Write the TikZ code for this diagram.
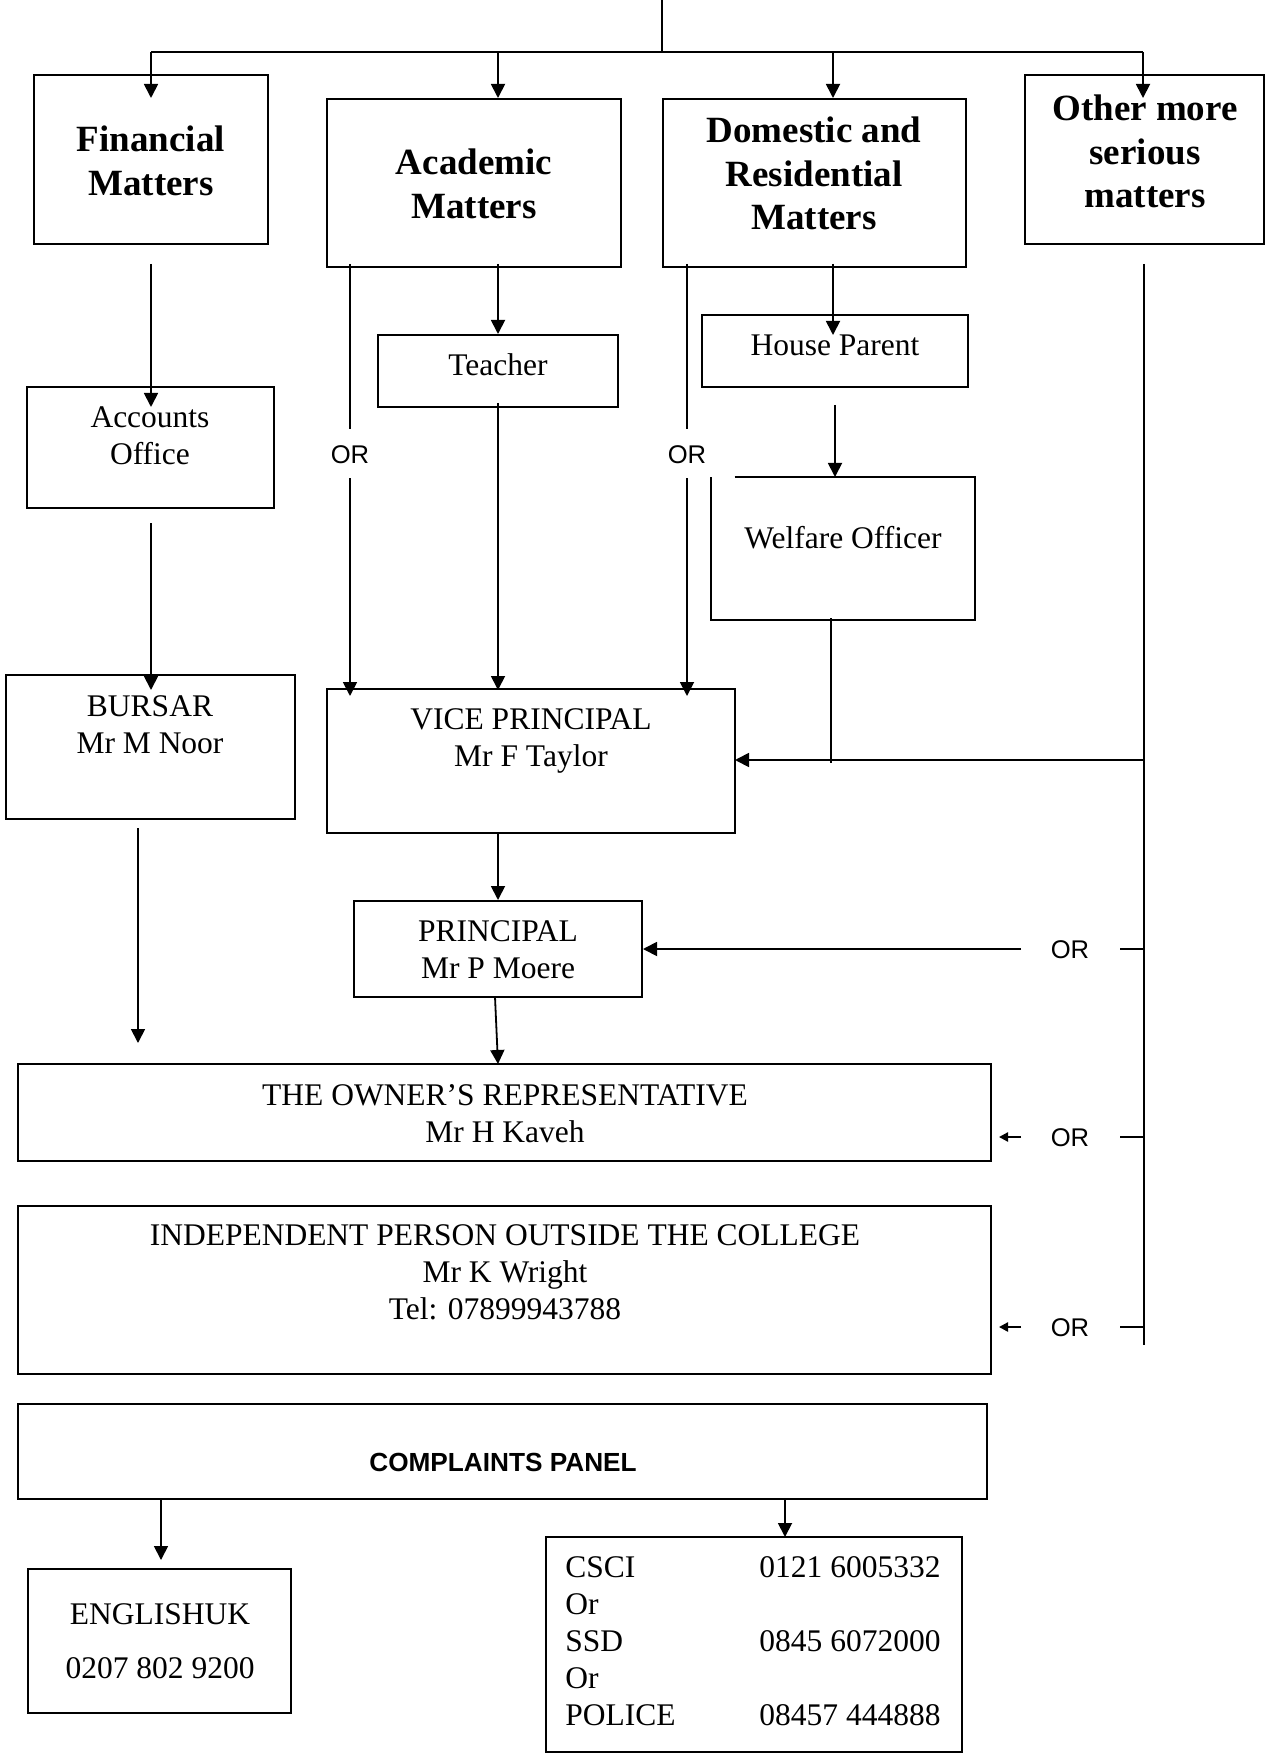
\documentclass[tikz,border=0pt]{standalone}
\usepackage{fontspec}
\setmainfont{Liberation Serif}
\setsansfont{Liberation Sans}
\usetikzlibrary{arrows.meta,fit,calc}
\newcommand\rmtext{\fontsize{15.75pt}{18.5pt}\selectfont}
\newcommand\bftext{\fontsize{18.5pt}{21.75pt}\selectfont\bfseries}
\newcommand\sftext{\fontsize{12.8pt}{15pt}\selectfont\sffamily}
\newcommand\cptext{\fontsize{13.1pt}{15pt}\selectfont\sffamily\bfseries}
\newcommand\tl[1]{\begin{tabular}[t]{@{}c@{}}#1\end{tabular}}
\newcommand\tll[1]{\begin{tabular}[t]{@{}l@{}}#1\end{tabular}}
\newcommand\tlr[1]{\begin{tabular}[t]{@{}r@{}}#1\end{tabular}}
\tikzset{
  box/.style={draw, line width=1pt, inner sep=0pt},
  boxline/.style={line width=1pt},
  con/.style={line width=0.9pt},
  arr/.style={con, -{Triangle[width=7pt,length=7pt]}},
  smallarr/.style={con, -{Triangle[width=4.6pt,length=4.5pt]}},
  txt/.style={inner sep=0pt, anchor=base, font=\rmtext},
  hd/.style={inner sep=0pt, anchor=base, font=\bftext},
  ortxt/.style={inner sep=0pt, anchor=base, font=\sftext},
}
\begin{document}
\begin{tikzpicture}[x=0.5pt,y=-0.5pt]
\useasboundingbox (0,0) rectangle (1266,1754);

% boxes
\node[box, fit={(34,75) (268,244)}] (fin) {};
\node[box, fit={(327,99) (621,267)}] (aca) {};
\node[box, fit={(663,99) (966,267)}] (dom) {};
\node[box, fit={(1025,75) (1264,244)}] (oth) {};
\node[box, fit={(378,335) (618,407)}] (tea) {};
\node[box, fit={(702,315) (968,387)}] (hp) {};
\node[box, fit={(27,387) (274,508)}] (acc) {};
\node[inner sep=0pt, fit={(711,477) (975,620)}] (wel) {};
\draw[boxline] ($(wel.north west)+(24,0)$) -- (wel.north east) -- (wel.south east) -- (wel.south west) -- (wel.north west);
\node[box, fit={(6,675) (295,819)}] (bur) {};
\node[box, fit={(327,689) (735,833)}] (vp) {};
\node[box, fit={(354,901) (642,997)}] (pri) {};
\node[box, fit={(18,1064) (991,1161)}] (own) {};
\node[box, fit={(18,1206) (991,1374)}] (ind) {};
\node[box, fit={(18,1404) (987,1499)}] (cp) {};
\node[box, fit={(28,1569) (291,1713)}] (eng) {};
\node[box, fit={(546,1537) (962,1752)}] (csc) {};

% texts
\node[hd] (finT) at (151,152) {\tl{Financial\\Matters}};
\node[hd] (acaT) at (474,175) {\tl{Academic\\Matters}};
\node[hd] (domT) at (814,143) {\tl{Domestic and\\Residential\\Matters}};
\node[hd] (othT) at (1145,121) {\tl{Other more\\serious\\matters}};
\node[txt] (teaT) at (498,376) {Teacher};
\node[txt] (hpT) at (835,356) {House Parent};
\node[txt] (accT) at (150,428) {\tl{Accounts\\Office}};
\node[ortxt] (or1) at (350,464) {OR};
\node[ortxt] (or2) at (687,464) {OR};
\node[txt] (welT) at (843,548) {Welfare Officer};
\node[txt] (burT) at (150,716) {\tl{BURSAR\\Mr M Noor}};
\node[txt] (vpT) at (531,729) {\tl{VICE PRINCIPAL\\Mr F Taylor}};
\node[txt] (priT) at (498,941) {\tl{PRINCIPAL\\Mr P Moere}};
\node[ortxt] (or3) at (1070,958) {OR};
\node[ortxt] (or4) at (1070,1146) {OR};
\node[ortxt] (or5) at (1070,1336) {OR};
\node[txt] (ownT) at (505,1105) {\tl{THE OWNER’S REPRESENTATIVE\\Mr H Kaveh}};
\node[txt] (indT) at (505,1245) {\tl{INDEPENDENT PERSON OUTSIDE THE COLLEGE\\Mr K Wright\\Tel: 07899943788}};
\node[inner sep=0pt, anchor=base, font=\cptext] (cpT) at (503,1471) {COMPLAINTS PANEL};
\node[txt] (engT) at (160,1624) {\tl{ENGLISHUK\\[8.5pt]0207 802 9200}};
\node[txt, anchor=base west] (cscL) at (565,1577) {\tll{CSCI\\Or\\SSD\\Or\\POLICE}};
\node[txt, anchor=base east] (cscR) at (941,1577) {\tlr{0121 6005332\\ \\0845 6072000\\ \\08457 444888}};

% coordinates
\coordinate (top) at (662,0);
\coordinate (hub) at (662,52);
\coordinate (bL) at (151,52);
\coordinate (bR) at (1143,52);
\coordinate (bA) at (498,52);
\coordinate (bD) at (833,52);
\coordinate (fa) at (151,264); \coordinate (fb) at (151,407);
\coordinate (aa) at (151,523); \coordinate (ab) at (151,690);
\coordinate (ba) at (138,828); \coordinate (bb) at (138,1043);
\coordinate (o1a) at (350,264); \coordinate (o1b) at (350,429);
\coordinate (o1c) at (350,478); \coordinate (o1d) at (350,696);
\coordinate (ta) at (498,264);
\coordinate (tb) at (498,403); \coordinate (tc) at (498,690);
\coordinate (o2a) at (687,264); \coordinate (o2b) at (687,429);
\coordinate (o2c) at (687,478); \coordinate (o2d) at (687,696);
\coordinate (da) at (833,264); \coordinate (db) at (833,335);
\coordinate (ha) at (835,405); \coordinate (hb) at (835,477);
\coordinate (wa) at (831,618); \coordinate (wb) at (831,763);
\coordinate (ra) at (1144,264); \coordinate (rb) at (1144,1345);
\coordinate (rc) at (1144,760); \coordinate (rv) at (735,760);
\coordinate (pa) at (1021,949);
\coordinate (pb) at (495,997); \coordinate (pc) at (498,1064);
\coordinate (t1a) at (1120,949); \coordinate (t1b) at (1144,949);
\coordinate (t2a) at (1120,1137); \coordinate (t2b) at (1144,1137);
\coordinate (t3a) at (1120,1327); \coordinate (t3b) at (1144,1327);
\coordinate (s1a) at (1021,1137); \coordinate (s1b) at (999,1137);
\coordinate (s2a) at (1021,1327); \coordinate (s2b) at (999,1327);
\coordinate (ea) at (161,1499); \coordinate (eb) at (161,1560);
\coordinate (ca) at (785,1499); \coordinate (cb) at (785,1537);

% connectors
\draw[con] (top) -- (hub);
\draw[con] (bL) -- (bR);
\draw[arr] (bL) -- (bL |- aca.north);
\draw[arr] (bA) -- (bA |- aca.north);
\draw[arr] (bD) -- (bD |- dom.north);
\draw[arr] (bR) -- (bR |- aca.north);
\draw[arr] (fa) -- (fb);
\draw[arr] (aa) -- (ab);
\draw[arr] (ba) -- (bb);
\draw[con] (o1a) -- (o1b);
\draw[arr] (o1c) -- (o1d);
\draw[arr] (ta) -- (tea.north);
\draw[arr] (tb) -- (tc);
\draw[con] (o2a) -- (o2b);
\draw[arr] (o2c) -- (o2d);
\draw[arr] (da) -- (db);
\draw[arr] (ha) -- (hb);
\draw[con] (wa) -- (wb);
\draw[con] (ra) -- (rb);
\draw[arr] (rc) -- (rv);
\draw[arr] (pri.north |- vp.south) -- (pri.north);
\draw[arr] (pa) -- (pri.east);
\draw[arr] (pb) -- (pc);
\draw[con] (t1a) -- (t1b);
\draw[con] (t2a) -- (t2b);
\draw[con] (t3a) -- (t3b);
\draw[smallarr] (s1a) -- (s1b);
\draw[smallarr] (s2a) -- (s2b);
\draw[arr] (ea) -- (eb);
\draw[arr] (ca) -- (cb);
\end{tikzpicture}
\end{document}
